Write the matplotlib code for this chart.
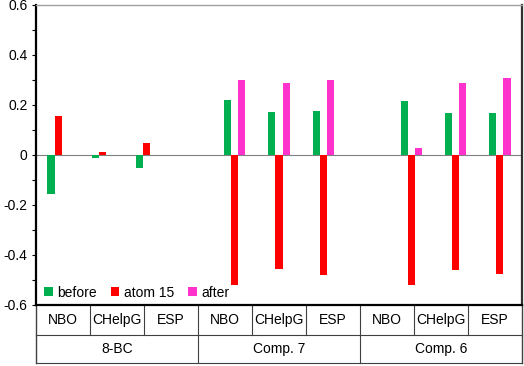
import matplotlib
matplotlib.use('Agg')
import matplotlib.pyplot as plt
from matplotlib.ticker import MultipleLocator, FuncFormatter
from matplotlib.lines import Line2D
import numpy as np

plt.rcParams['font.family'] = ['Liberation Sans', 'DejaVu Sans']

# data
groups = ['8-BC', 'Comp. 7', 'Comp. 6']
methods = ['NBO', 'CHelpG', 'ESP']
before = [[-0.155, -0.010, -0.050],
          [0.219, 0.171, 0.177],
          [0.215, 0.167, 0.167]]
atom15 = [[0.155, 0.012, 0.050],
          [-0.520, -0.456, -0.479],
          [-0.520, -0.459, -0.475]]
after = [[np.nan, np.nan, np.nan],
         [0.299, 0.287, 0.299],
         [0.028, 0.289, 0.308]]

series = [('before', before, '#00B050'),
          ('atom 15', atom15, '#FF0000'),
          ('after', after, '#FF33CC')]

fig = plt.figure(figsize=(5.24, 3.66), dpi=100)
ax = fig.add_axes([36 / 524, 61 / 366, 486 / 524, 300 / 366])

# one empty slot between groups
pos = np.array([g * 4 + i for g in range(len(groups)) for i in range(len(methods))])
bw = 0.16
for k, (name, vals, col) in enumerate(series):
    v = np.array(vals).ravel()
    ax.bar(pos + (k - 1) * bw, v, width=bw, color=col, label=name, zorder=3)

ax.axhline(0, color='#808080', lw=0.8, zorder=2)
ax.set_xlim(-0.5, 10.5)
ax.set_ylim(-0.6, 0.6)
ax.set_xticks([])

ax.yaxis.set_major_locator(MultipleLocator(0.2))
ax.yaxis.set_minor_locator(MultipleLocator(0.1))
ax.yaxis.set_major_formatter(FuncFormatter(lambda y, p: '0' if abs(y) < 1e-9 else f'{y:.1f}'))
ax.tick_params(axis='y', which='both', direction='out', length=3, width=0.8,
               labelsize=10, pad=3, colors='black')

for s in ['left', 'bottom']:
    ax.spines[s].set_linewidth(1.6)
    ax.spines[s].set_color('black')
ax.spines['top'].set_linewidth(1)
ax.spines['top'].set_color('#a0a0a0')
ax.spines['right'].set_linewidth(1.6)
ax.spines['right'].set_color('#303030')

leg = ax.legend(loc='lower left', bbox_to_anchor=(0.0, -0.01), ncol=3, frameon=False,
                fontsize=10, handlelength=0.6, handleheight=0.6, handletextpad=0.35,
                columnspacing=1.0, borderaxespad=0.2)

# category label table below the axes
tr = ax.transAxes
lc = '#404040'
r1, r2 = -0.1, -0.193
ncell = len(groups) * len(methods)
ax.add_line(Line2D([0, 0], [0, r2], transform=tr, color=lc, lw=1, clip_on=False))
ax.add_line(Line2D([1, 1], [0, r2], transform=tr, color=lc, lw=1, clip_on=False))
ax.add_line(Line2D([0, 1], [r1, r1], transform=tr, color=lc, lw=0.8, clip_on=False))
ax.add_line(Line2D([0, 1], [r2, r2], transform=tr, color=lc, lw=0.8, clip_on=False))
for g, gname in enumerate(groups):
    for i, m in enumerate(methods):
        c = g * len(methods) + i
        x0 = c / ncell
        if i > 0:
            ax.add_line(Line2D([x0, x0], [0, r1], transform=tr, color=lc, lw=0.8, clip_on=False))
        ax.text((c + 0.5) / ncell, r1 / 2, m, transform=tr, ha='center', va='center', fontsize=10)
    gx0 = g / len(groups)
    if g > 0:
        ax.add_line(Line2D([gx0, gx0], [0, r2], transform=tr, color=lc, lw=0.8, clip_on=False))
    ax.text((g + 0.5) / len(groups), (r1 + r2) / 2, gname, transform=tr,
            ha='center', va='center', fontsize=10)

fig.savefig('out.png', dpi=100)
